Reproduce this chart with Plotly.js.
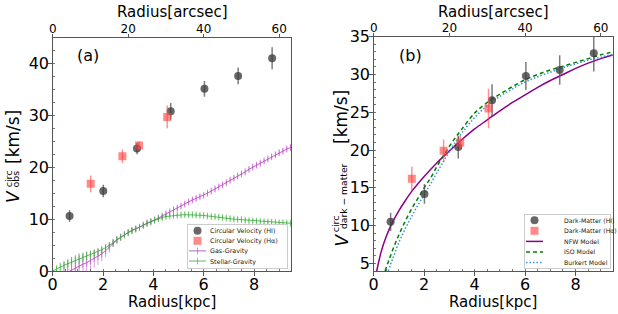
<!DOCTYPE html>
<html>
<head>
<meta charset="utf-8">
<script src="https://cdn.plot.ly/plotly-3.0.1.min.js"></script>
<style>html,body{margin:0;padding:0;background:#fff;}#chart{width:618px;height:314px;}</style>
</head>
<body>
<div id="chart"></div>
<script>
// ---------- data ----------
const kpcPerArcsec = 0.15;

// Panel (a): observed circular velocity
const hiR = [0.67, 2.01, 3.35, 4.69, 6.03, 7.37, 8.72];
const hiVobs = [10.6, 15.4, 23.6, 30.8, 35.1, 37.6, 41.0];
const hiVobsErr = [1.1, 1.2, 1.1, 1.6, 1.5, 1.6, 2.1];

const haR = [1.51, 2.77, 3.43, 4.55];
const haVobs = [16.8, 22.1, 24.2, 29.7];
const haVobsErr = [1.6, 1.3, 0.8, 2.2];

const gasR = [0.45,0.6,0.75,0.9,1.05,1.2,1.35,1.5,1.65,1.8,1.95,2.1,2.25,2.4,2.55,2.7,2.85,3.0,3.15,3.3,
  3.45,3.6,3.75,3.9,4.05,4.2,4.35,4.5,4.65,4.8,4.95,5.1,5.25,5.4,5.55,5.7,5.85,6.0,6.15,6.3,
  6.45,6.6,6.75,6.9,7.05,7.2,7.35,7.5,7.65,7.8,7.95,8.1,8.25,8.4,8.55,8.7,8.85,9.0,9.15,9.3,9.45];
const gasV = [-0.6,-0.2,0.2,0.6,1.0,1.3,1.6,2.0,2.4,2.8,3.3,3.9,4.6,5.4,6.0,6.5,7.0,7.4,7.8,8.1,
  8.4,8.8,9.2,9.5,9.85,10.2,10.6,11.0,11.4,11.8,12.1,12.5,12.9,13.3,13.7,14.0,14.3,14.6,15.0,15.4,
  15.8,16.2,16.6,17.0,17.5,17.9,18.3,18.7,19.1,19.6,20.0,20.4,20.8,21.2,21.6,22.0,22.4,22.8,23.1,23.5,23.8];
const gasErr = [2.3,2.4,2.5,2.5,2.4,2.3,2.2,2.0,1.8,1.6,1.4,1.2,1.0,0.8,0.7,0.6,0.5,0.5,0.5,0.5,
  0.5,0.5,0.5,0.5,0.5,0.5,0.5,0.5,0.5,0.5,0.5,0.5,0.5,0.5,0.5,0.5,0.5,0.5,0.5,0.5,
  0.5,0.5,0.5,0.5,0.5,0.5,0.5,0.5,0.5,0.5,0.5,0.5,0.5,0.5,0.5,0.5,0.5,0.5,0.5,0.5,0.5];

const starR = [0,0.15,0.3,0.45,0.6,0.75,0.9,1.05,1.2,1.35,1.5,1.65,1.8,1.95,2.1,2.25,2.4,2.55,2.7,2.85,
  3.0,3.15,3.3,3.45,3.6,3.75,3.9,4.05,4.2,4.35,4.5,4.65,4.8,4.95,5.1,5.25,5.4,5.55,5.7,5.85,
  6.0,6.15,6.3,6.45,6.6,6.75,6.9,7.05,7.2,7.35,7.5,7.65,7.8,7.95,8.1,8.25,8.4,8.55,8.7,8.85,
  9.0,9.15,9.3,9.45];
const starV = [0,0.4,0.8,1.1,1.4,1.7,2.0,2.3,2.6,2.9,3.1,3.4,3.7,4.1,4.5,4.9,5.4,6.0,6.5,7.0,
  7.4,7.8,8.1,8.4,8.8,9.2,9.5,9.8,10.1,10.3,10.5,10.6,10.7,10.75,10.8,10.85,10.85,10.85,10.8,10.75,
  10.7,10.6,10.5,10.45,10.4,10.3,10.2,10.1,10.0,9.95,9.9,9.8,9.7,9.65,9.6,9.55,9.5,9.45,9.4,9.35,
  9.3,9.3,9.25,9.2];
const starErr = [0.3,0.6,0.8,0.9,0.9,0.9,0.9,0.9,0.8,0.8,0.7,0.6,0.5,0.5,0.45,0.45,0.45,0.45,0.45,0.45,
  0.45,0.45,0.45,0.45,0.45,0.45,0.45,0.45,0.45,0.45,0.45,0.45,0.45,0.45,0.45,0.45,0.45,0.45,0.45,0.45,
  0.45,0.45,0.45,0.45,0.45,0.45,0.45,0.45,0.45,0.45,0.45,0.45,0.45,0.45,0.45,0.45,0.45,0.45,0.45,0.45,
  0.45,0.45,0.45,0.45];

// Panel (b): dark-matter circular velocity
const hiVdm = [10.5, 14.2, 20.4, 26.6, 29.8, 30.6, 32.8];
const hiVdmErr = [1.2, 1.3, 1.5, 2.1, 1.85, 1.95, 2.4];
const haVdm = [16.2, 19.9, 21.0, 25.5];
const haVdmErr = [1.6, 1.5, 0.9, 2.6];

const nfwR = [0.12,0.3,0.5,0.75,1.0,1.25,1.5,2.0,2.5,3.0,3.5,4.0,4.5,5.0,5.5,6.0,6.5,7.0,7.5,8.0,8.5,9.0,9.5];
const nfwV = [4.0,6.6,8.6,10.5,12.0,13.3,14.5,16.5,18.3,19.9,21.4,22.8,24.0,25.2,26.3,27.3,28.3,29.2,30.0,30.8,31.5,32.1,32.6];

const isoR = [0.45,0.6,0.8,1.0,1.25,1.5,1.75,2.0,2.25,2.5,2.75,3.0,3.25,3.5,4.0,4.5,5.0,5.5,6.0,6.5,7.0,7.5,8.0,8.5,9.0,9.5];
const isoV = [4.0,5.4,7.2,8.8,10.6,12.2,13.6,15.0,16.3,17.8,19.2,20.5,21.7,22.8,24.9,26.3,27.4,28.4,29.3,30.0,30.6,31.1,31.6,32.1,32.6,33.0];

const burR = [0.58,0.75,1.0,1.25,1.5,1.75,2.0,2.25,2.5,2.75,3.0,3.25,3.5,4.0,4.5,5.0,5.5,6.0,6.5,7.0,7.5,8.0,8.5,9.0,9.5];
const burV = [4.0,5.6,7.8,9.6,11.2,12.7,14.1,15.5,17.0,18.4,19.8,21.1,22.3,24.3,25.9,27.1,28.1,29.0,29.7,30.3,30.9,31.4,31.9,32.3,32.7];

const xTicksKpc = [0, 2, 4, 6, 8];
const xTicksArcsec = [0, 20, 40, 60];

// ---------- styling ----------
const FONT = 'DejaVu Sans, Arial, sans-serif';
const W = 618, H = 314;
const px = v => v / W, py = v => 1 - v / H;
const xMax = 9.47;

const hiMarker = {color: 'rgba(60,60,60,0.78)', size: 8, symbol: 'circle'};
const hiErrStyle = {color: 'rgba(80,80,80,0.75)', thickness: 1.5, width: 0};
const haMarker = {color: 'rgba(255,60,60,0.6)', size: 8, symbol: 'square'};
const haErrStyle = {color: 'rgba(255,70,70,0.6)', thickness: 1.5, width: 0};

const traces = [
  // panel (a)
  {x: gasR, y: gasV, type: 'scatter', mode: 'lines+markers', name: 'Gas-Gravity',
   line: {color: 'rgba(175,40,190,0.75)', width: 1},
   marker: {symbol: 'line-ns-open', size: 5, color: 'rgba(190,80,200,0.6)', line: {width: 1, color: 'rgba(190,80,200,0.6)'}},
   error_y: {type: 'data', array: gasErr, visible: true, color: 'rgba(190,80,200,0.55)', thickness: 1, width: 0},
   xaxis: 'x', yaxis: 'y', legend: 'legend', legendrank: 3},
  {x: starR, y: starV, type: 'scatter', mode: 'lines+markers', name: 'Stellar-Gravity',
   line: {color: 'rgba(40,160,40,0.75)', width: 1},
   marker: {symbol: 'line-ns-open', size: 5, color: 'rgba(60,180,60,0.6)', line: {width: 1, color: 'rgba(60,180,60,0.6)'}},
   error_y: {type: 'data', array: starErr, visible: true, color: 'rgba(60,180,60,0.55)', thickness: 1, width: 0},
   xaxis: 'x', yaxis: 'y', legend: 'legend', legendrank: 4},
  {x: hiR, y: hiVobs, type: 'scatter', mode: 'markers', name: 'Circular Velocity (HI)',
   marker: hiMarker, error_y: Object.assign({type: 'data', array: hiVobsErr, visible: true}, hiErrStyle),
   xaxis: 'x', yaxis: 'y', legend: 'legend', legendrank: 1},
  {x: haR, y: haVobs, type: 'scatter', mode: 'markers', name: 'Circular Velocity (Hα)',
   marker: haMarker, error_y: Object.assign({type: 'data', array: haVobsErr, visible: true}, haErrStyle),
   xaxis: 'x', yaxis: 'y', legend: 'legend', legendrank: 2},
  // top axis helper (a)
  {x: xTicksArcsec, y: xTicksArcsec.map(() => null), type: 'scatter', mode: 'markers', showlegend: false,
   hoverinfo: 'skip', xaxis: 'x3', yaxis: 'y'},

  // panel (b)
  {x: nfwR, y: nfwV, type: 'scatter', mode: 'lines', name: 'NFW Model', line: {color: '#8b008b', width: 1.5, shape: 'spline'},
   xaxis: 'x2', yaxis: 'y2', legend: 'legend2', legendrank: 3},
  {x: isoR, y: isoV, type: 'scatter', mode: 'lines', name: 'ISO Model', line: {color: '#008000', width: 1.5, dash: '4px,3px', shape: 'spline'},
   xaxis: 'x2', yaxis: 'y2', legend: 'legend2', legendrank: 4},
  {x: burR, y: burV, type: 'scatter', mode: 'lines', name: 'Burkert Model', line: {color: '#3a90dc', width: 1.5, dash: '1.5px,2px', shape: 'spline'},
   xaxis: 'x2', yaxis: 'y2', legend: 'legend2', legendrank: 5},
  {x: hiR, y: hiVdm, type: 'scatter', mode: 'markers', name: 'Dark-Matter (HI)',
   marker: hiMarker, error_y: Object.assign({type: 'data', array: hiVdmErr, visible: true}, hiErrStyle),
   xaxis: 'x2', yaxis: 'y2', legend: 'legend2', legendrank: 1},
  {x: haR, y: haVdm, type: 'scatter', mode: 'markers', name: 'Dark-Matter (Hα)',
   marker: haMarker, error_y: Object.assign({type: 'data', array: haVdmErr, visible: true}, haErrStyle),
   xaxis: 'x2', yaxis: 'y2', legend: 'legend2', legendrank: 2},
  {x: xTicksArcsec, y: xTicksArcsec.map(() => null), type: 'scatter', mode: 'markers', showlegend: false,
   hoverinfo: 'skip', xaxis: 'x4', yaxis: 'y2'}
];

const axisLine = {showline: true, linecolor: '#555', linewidth: 1, zeroline: false, showgrid: false, automargin: false};
const bottomAxis = (dom) => Object.assign({}, axisLine, {
  domain: dom, range: [0, xMax], tickvals: xTicksKpc, ticks: 'outside', ticklen: 3.5, tickcolor: '#555', tickwidth: 1,
  tickfont: {family: FONT, size: 16, color: '#000'}, mirror: false, ticklabelstandoff: -5,
  minor: {dtick: 0.5, ticks: 'inside', ticklen: 2, tickcolor: '#555', tickwidth: 0.8}
});
const topAxis = (over, anchor) => Object.assign({}, axisLine, {
  overlaying: over, anchor: anchor, side: 'top', range: [0, xMax / kpcPerArcsec], tickvals: xTicksArcsec,
  ticks: 'outside', ticklen: 3, tickcolor: '#555', tickwidth: 1, ticklabelstandoff: -4,
  tickfont: {family: FONT, size: 12, color: '#000'}
});
const leftAxis = (dom, anchor, range, dtick, minorDtick) => Object.assign({}, axisLine, {
  domain: dom, anchor: anchor, range: range, dtick: dtick, tick0: 0, mirror: true,
  ticks: 'outside', ticklen: 3.5, tickcolor: '#555', ticklabelstandoff: -4,
  tickfont: {family: FONT, size: 16, color: '#000'},
  minor: {dtick: minorDtick, ticks: 'inside', ticklen: 2, tickcolor: '#555', tickwidth: 0.8}
});

function note(text, x, y, size, angle) {
  return {text: text, x: px(x), y: py(y), xref: 'paper', yref: 'paper', xanchor: 'center', yanchor: 'middle',
    showarrow: false, textangle: angle || 0, borderpad: 0, font: {family: FONT, size: size, color: '#000'}};
}

const layout = {
  width: W, height: H, margin: {l: 0, r: 0, t: 0, b: 0, autoexpand: false}, paper_bgcolor: '#fff', plot_bgcolor: '#fff',
  font: {family: FONT, color: '#000'}, showlegend: true,
  xaxis: Object.assign(bottomAxis([px(52.7), px(291)]), {anchor: 'y'}),
  yaxis: leftAxis([py(271), py(37.5)], 'x', [0, 45], 10, 2.5),
  xaxis3: topAxis('x', 'y'),
  xaxis2: Object.assign(bottomAxis([px(373.7), px(612.7)]), {anchor: 'y2'}),
  yaxis2: leftAxis([py(271), py(36.7)], 'x2', [4, 35], 5, 1),
  xaxis4: topAxis('x2', 'y2'),
  legend: {x: 0.3, y: 0.9, xanchor: 'left', yanchor: 'top', bgcolor: 'rgba(255,255,255,0.85)',
    bordercolor: '#ccc', borderwidth: 1, font: {family: FONT, size: 6.4, color: '#222'}, traceorder: 'normal'},
  legend2: {x: 0.7, y: 0.9, xanchor: 'left', yanchor: 'top', bgcolor: 'rgba(255,255,255,0.85)',
    bordercolor: '#ccc', borderwidth: 1, font: {family: FONT, size: 6.2, color: '#222'}, traceorder: 'normal'},
  annotations: [
    note('(a)', 88, 56, 16),
    note('(b)', 410, 56, 16),
    // axis titles
    note('Radius[kpc]', 172, 302, 15),
    note('Radius[kpc]', 493.3, 302, 15),
    note('Radius[arcsec]', 172, 11.5, 15),
    note('Radius[arcsec]', 493.8, 11.5, 15),
    // panel (a) y title: V^circ_obs [km/s]
    note('<i>V</i>', 12.5, 196.5, 17, -90),
    note('circ', 8.8, 178.5, 9.5, -90),
    note('obs', 15, 179.5, 9.5, -90),
    note('[km/s]', 12.5, 137.5, 17, -90),
    // panel (b) y title: V^circ_{dark − matter} [km/s]
    note('<i>V</i>', 341, 240.5, 17, -90),
    note('circ', 335.8, 223.5, 9.5, -90),
    note('dark − matter', 343, 196, 9.2, -90),
    note('[km/s]', 341.5, 117.5, 17, -90)
  ]
};

// compact legend rows like the reference (Plotly enforces a large minimum row height)
function compactLegends(gd) {
  const boxes = {
    a: {x: 187, y: 224, w: 100, h: 44, first: 6.7, row: 10.1},
    b: {x: 524, y: 214, w: 86, h: 54, first: 6.2, row: 10.6}
  };
  const legends = Array.from(gd.querySelectorAll('.infolayer > g')).filter(g => /^legend\d*$/.test(g.getAttribute('class') || ''));
  legends.forEach(lg => {
    const box = lg.textContent.indexOf('Circular') >= 0 ? boxes.a : boxes.b;
    lg.setAttribute('transform', 'translate(' + box.x + ',' + box.y + ')');
    const bg = lg.querySelector('rect.bg');
    if (bg) { bg.setAttribute('width', box.w); bg.setAttribute('height', box.h); bg.setAttribute('x', 0.5); bg.setAttribute('y', 0.5); }
    const sb = lg.querySelector('.scrollbox'); if (sb) { sb.setAttribute('transform', 'translate(0,0)'); sb.removeAttribute('clip-path'); }
    lg.querySelectorAll('g.groups').forEach(g => g.setAttribute('transform', 'translate(0,0)'));
    const items = lg.querySelectorAll('g.traces');
    items.forEach((it, i) => {
      it.setAttribute('transform', 'translate(0,' + (box.first + box.row * i) + ')');
      const t = it.querySelector('text.legendtext'); if (t) t.setAttribute('x', 23);
      it.querySelectorAll('.legendlines path').forEach(p => p.setAttribute('d', 'M2,0h17'));
      it.querySelectorAll('.legendpoints path.scatterpts').forEach(p => p.setAttribute('transform', 'translate(10.5,0)'));
    });
  });
}

Plotly.newPlot('chart', traces, layout, {staticPlot: true}).then(gd => compactLegends(gd));
</script>
</body>
</html>
